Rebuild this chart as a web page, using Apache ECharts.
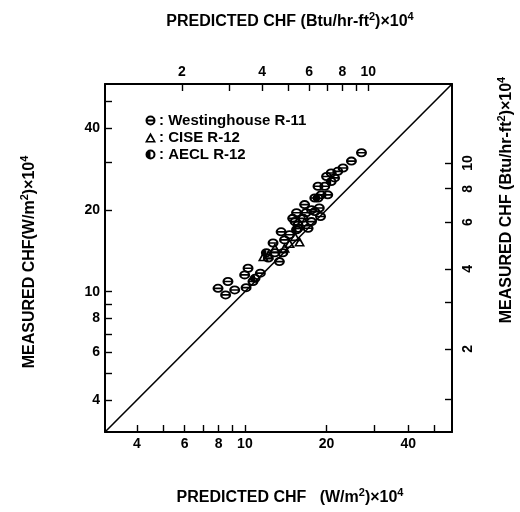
<!DOCTYPE html>
<html>
<head>
<meta charset="UTF-8">
<title>CHF</title>
<script src="https://cdn.jsdelivr.net/npm/echarts@6/dist/echarts.min.js"></script>
</head>
<body style="margin:0">
	<div id="container" style="width:520px;height:512px;"></div>
	<script type="text/javascript">
	// values in (W/m2)x10^4 unless noted
	var westX = [7.96,8.66,8.49,9.17,9.98,10.27,10.1,10.71,11.4,12.7,13.4,12.9,12.2,13.6,14.6,14.0,15.0,15.7,15.5,16.6,16.4,17.6,17.1,18.1,19.1,18.8,19.0,20.2,19.7,20.0,20.8,21.4,22.0,23.0,24.7,26.9,18.1,17.6,15.7,16.8,15.3,18.6,13.8];
	var westY = [10.29,10.9,9.73,10.15,11.53,12.2,10.35,10.9,11.7,15.1,12.9,13.9,13.3,16.6,16.2,15.5,18.6,17.6,19.5,20.9,18.6,18.1,17.1,22.1,22.7,20.3,18.9,22.7,24.4,26.5,27.3,26.2,27.7,28.5,30.2,32.4,19.7,20.0,17.1,19.5,18.1,24.4,13.9];
	var ciseX = [11.7,12.2,14.0,14.6,15.9,15.3,12.9,16.6];
	var ciseY = [13.5,13.7,14.5,15.1,15.3,16.0,14.5,18.1];
	var aeclX = [12.0,15.5,18.6,20.8,10.9];
	var aeclY = [13.9,16.9,22.1,25.4,11.2];
	var lineEnds = [3.05, 58];          // 1:1 line

	var wRange = [3.05, 58];
	var btuTopRange = [1.03, 20.6];     // Btu/hr-ft2 x10^4
	var btuRightRange = [0.975, 19.8];

	var bottomTicks = [4,5,6,7,8,9,10,20,30,40,50];
	var bottomLabels = [4,6,8,10,20,40];
	var leftTicks = [4,5,6,7,8,9,10,20,30,40,50];
	var leftLabels = [4,6,8,10,20,40];
	var topTicks = [2,3,4,5,6,7,8,9,10];
	var topLabels = [2,4,6,8,10];
	var rightTicks = [1.3,2,3,4,6,8,10];
	var rightLabels = [2,4,6,8,10];

	function lg(v){ return Math.log10(v); }
	function pairs(xs, ys){
		var out = [];
		for (var i = 0; i < xs.length; i++) out.push([lg(xs[i]), lg(ys[i])]);
		return out;
	}
	function fmt(v){ return String(Math.round(Math.pow(10, v))); }

	var FONT = 'Liberation Sans';
	var ring = 'M0,50 A50,50 0 1,1 100,50 A50,50 0 1,1 0,50 Z M20,50 A30,30 0 1,0 80,50 A30,30 0 1,0 20,50 Z';
	var symWest = 'path://' + ring + ' M20,41 L80,41 L80,59 L20,59 Z';
	var symAecl = 'path://' + ring + ' M50,0 L50,100 A50,50 0 0,1 50,0 Z';
	var symCise = 'path://M50,0 L100,90 L0,90 Z M50,34 L24,76 L76,76 Z';

	function axisBase(pos, range, ticks, labels){
		return {
			type: 'value',
			position: pos,
			min: lg(range[0]),
			max: lg(range[1]),
			splitLine: {show: false},
			axisLine: {show: true, onZero: false, lineStyle: {color: '#000', width: 2}},
			axisTick: {show: true, inside: true, length: 7, customValues: ticks.map(lg), lineStyle: {color: '#000', width: 1.4}},
			axisLabel: {customValues: labels.map(lg), formatter: fmt, color: '#000',
				fontFamily: FONT, fontWeight: 'bold', fontSize: 14, margin: 5}
		};
	}

	var xBottom = axisBase('bottom', wRange, bottomTicks, bottomLabels);
	var xTop = axisBase('top', btuTopRange, topTicks, topLabels);
	var yLeft = axisBase('left', wRange, leftTicks, leftLabels);
	var yRight = axisBase('right', btuRightRange, rightTicks, rightLabels);
	yRight.axisLabel.rotate = 90;
	yRight.axisLabel.margin = 9;

	var rich = {
		a: {fontFamily: FONT, fontSize: 16, fontWeight: 'bold', color: '#000'},
		s: {fontFamily: FONT, fontSize: 11, fontWeight: 'bold', color: '#000', padding: [0, 0, 10, 0]}
	};
	function name(x, y, rot, text){
		return {type: 'text', x: x, y: y, rotation: rot,
			style: {text: text, rich: rich, align: 'center', verticalAlign: 'middle', fill: '#000'}};
	}

	var myChart = echarts.init(document.getElementById('container'));
	var option = {
		backgroundColor: '#fff',
		animation: false,
		grid: {left: 105, top: 84, width: 347, height: 348, containLabel: false},
		xAxis: [xBottom, xTop],
		yAxis: [yLeft, yRight],
		legend: {
			orient: 'vertical', left: 140, top: 108, itemGap: 2,
			itemWidth: 11, itemHeight: 10,
			data: ['Westinghouse R-11', 'CISE R-12', 'AECL R-12'],
			formatter: function(n){ return ': ' + n; },
			textStyle: {fontFamily: FONT, fontSize: 15, fontWeight: 'bold', color: '#000', padding: [0, 0, 0, -2]}
		},
		graphic: [
			name(290, 22, 0, '{a|PREDICTED CHF (Btu/hr-ft}{s|2}{a|)×10}{s|4}'),
			name(290, 498, 0, '{a|PREDICTED CHF   (W/m}{s|2}{a|)×10}{s|4}'),
			name(30, 262, Math.PI / 2, '{a|MEASURED CHF(W/m}{s|2}{a|)×10}{s|4}'),
			name(507, 200, Math.PI / 2, '{a|MEASURED CHF (Btu/hr-ft}{s|2}{a|)×10}{s|4}')
		],
		series: [
			{
				name: '1:1', type: 'line', silent: true, showSymbol: false,
				data: [[lg(lineEnds[0]), lg(lineEnds[0])], [lg(lineEnds[1]), lg(lineEnds[1])]],
				lineStyle: {color: '#000', width: 1.6}, z: 1
			},
			{
				name: 'Westinghouse R-11', type: 'scatter', symbol: symWest, symbolSize: [11, 9],
				data: pairs(westX, westY), itemStyle: {color: '#000', opacity: 1}
			},
			{
				name: 'CISE R-12', type: 'scatter', symbol: symCise, symbolSize: [11, 10],
				data: pairs(ciseX, ciseY), itemStyle: {color: '#000', opacity: 1}
			},
			{
				name: 'AECL R-12', type: 'scatter', symbol: symAecl, symbolSize: [11, 9],
				data: pairs(aeclX, aeclY), itemStyle: {color: '#000', opacity: 1}
			}
		]
	};
	myChart.setOption(option, true);
	</script>
</body>
</html>
